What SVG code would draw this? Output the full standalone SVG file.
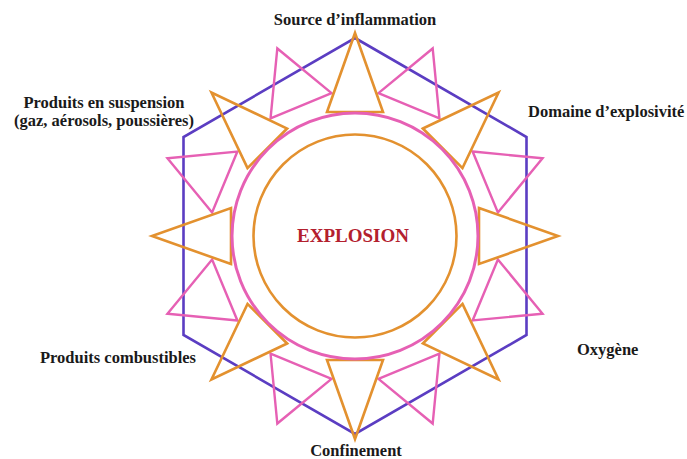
<svg xmlns="http://www.w3.org/2000/svg" xmlns:xlink="http://www.w3.org/1999/xlink" width="687" height="459" viewBox="0 0 687 459">
<style>
.lbl{font-family:"Liberation Serif","Times New Roman",serif;font-weight:bold;font-size:16.5px;fill:#1a1a1a}
.ctr{font-family:"Liberation Serif","Times New Roman",serif;font-weight:bold;font-size:19px;fill:#b3202e}
.or{fill:none;stroke:#E3912F;stroke-width:2.6;stroke-linejoin:miter}
.pk{fill:none;stroke:#E660B4;stroke-width:2.4;stroke-linejoin:miter}
.hx{fill:none;stroke:#5B3DC2;stroke-width:2.6}
</style>
<defs>
<polygon id="otri" class="or" points="327,112 355,33 383,112"/>
<polygon id="ptri" class="pk" points="322,95 355,33 388,95"/>
</defs>
<rect width="687" height="459" fill="#ffffff"/>
<g id="star">
<polygon class="hx" points="355,38 526.5,137 526.5,335 355,434 183.5,335 183.5,137"/>
<use xlink:href="#ptri" transform="rotate(22.5 355 236)"/>
<use xlink:href="#ptri" transform="rotate(67.5 355 236)"/>
<use xlink:href="#ptri" transform="rotate(112.5 355 236)"/>
<use xlink:href="#ptri" transform="rotate(157.5 355 236)"/>
<use xlink:href="#ptri" transform="rotate(202.5 355 236)"/>
<use xlink:href="#ptri" transform="rotate(247.5 355 236)"/>
<use xlink:href="#ptri" transform="rotate(292.5 355 236)"/>
<use xlink:href="#ptri" transform="rotate(337.5 355 236)"/>
<use xlink:href="#otri"/>
<use xlink:href="#otri" transform="rotate(45 355 236)"/>
<use xlink:href="#otri" transform="rotate(90 355 236)"/>
<use xlink:href="#otri" transform="rotate(135 355 236)"/>
<use xlink:href="#otri" transform="rotate(180 355 236)"/>
<use xlink:href="#otri" transform="rotate(225 355 236)"/>
<use xlink:href="#otri" transform="rotate(270 355 236)"/>
<use xlink:href="#otri" transform="rotate(315 355 236)"/>
<circle cx="355" cy="236" r="123" fill="none" stroke="#E660B4" stroke-width="3"/>
<circle cx="355" cy="236" r="101.5" fill="none" stroke="#E3912F" stroke-width="2.6"/>
</g>
<g id="connectors"></g>
<g id="explosion"><text class="ctr" x="353" y="242" text-anchor="middle">EXPLOSION</text></g>
<g id="source"><text class="lbl" x="355" y="25" text-anchor="middle">Source d’inflammation</text></g>
<g id="domaine"><text class="lbl" x="528" y="117">Domaine d’explosivité</text></g>
<g id="suspension"><text class="lbl" x="104" y="108" text-anchor="middle">Produits en suspension</text><text class="lbl" x="104" y="126" text-anchor="middle">(gaz, aérosols, poussières)</text></g>
<g id="combustibles"><text class="lbl" x="118" y="363" text-anchor="middle">Produits combustibles</text></g>
<g id="oxygene"><text class="lbl" x="577" y="355">Oxygène</text></g>
<g id="confinement"><text class="lbl" x="356" y="456" text-anchor="middle">Confinement</text></g>
</svg>
